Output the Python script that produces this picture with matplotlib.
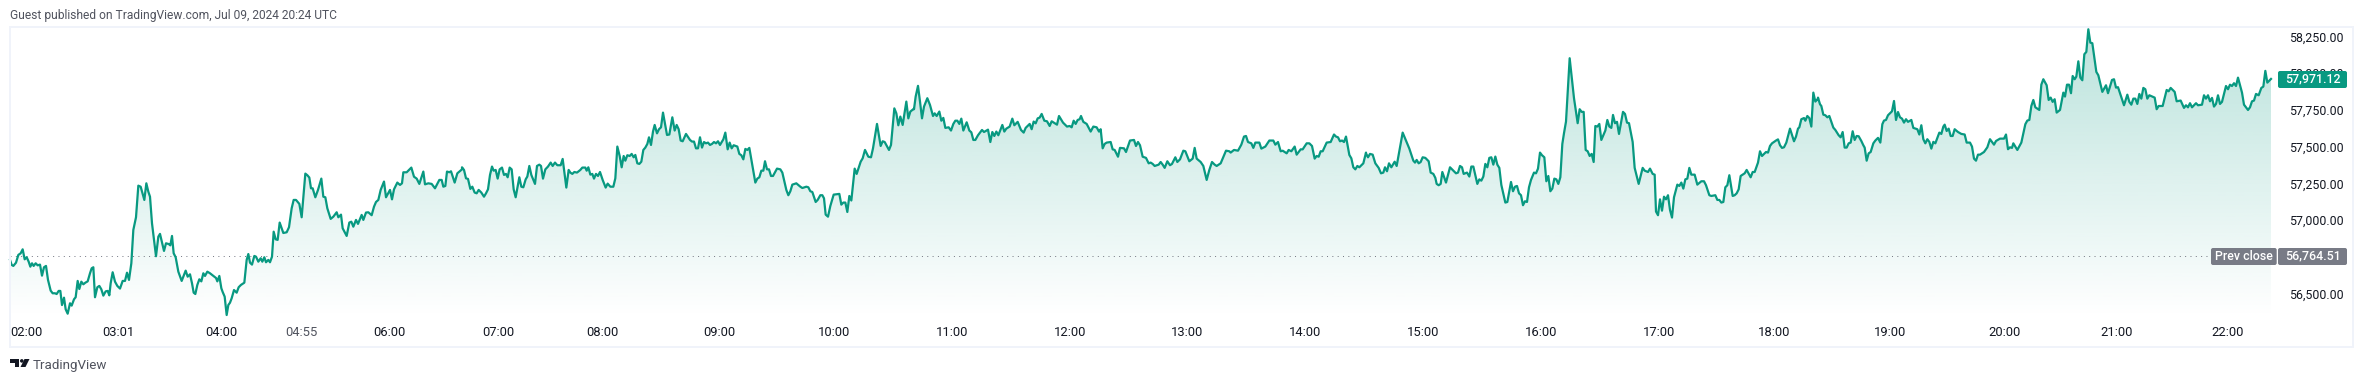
import numpy as np
import matplotlib
matplotlib.use("Agg")
import matplotlib.pyplot as plt
from matplotlib.patches import FancyBboxPatch, Rectangle, Polygon, Circle
from matplotlib.transforms import ScaledTranslation

# sub-bar position inside each window of the session (one window = 1356 units), and price
WINDOW = 1356
t_a = [0,5,10,18,25,32,38,44,50,56,61,66,71,77,83,90,96,102,108,114,122,128,135,140,146,151,156,162,167,173,180,185,192,197,203,208,214,220,226,233,240,245,250,255,262,268,274,280,287,293,298,302,308,315,322,330,338,345,351,357,364,370,378,385,392,403,409,415,420,426,432,438,445,450,462,468,476,481,486,491,497,505,515,520,527,533,540,546,551,556,562,568,574,580,585,592,600,608,618,622,628,634,638,644,650,655,660,665,672,680,686,693,703,710,715,720,726,733,738,745,752,757,763,768,775,780,786,791,797,803,809,820,830,837,845,851,858,868,875,886,892,898,903,908,916,924,934,940,946,952,962,970,980,985,993,998,1010,1018,1024,1030,1038,1044,1055,1060,1068,1075,1085,1092,1098,1105,1112,1122,1128,1140,1146,1152,1162,1170,1176,1180,1190,1204,1212,1220,1228,1240,1245,1255,1265,1275,1288,1295,1300,1306,1311,1318,1323,1334,1342,1356]
p_a = [56740,56706,56699,56721,56774,56785,56812,56744,56758,56728,56694,56717,56699,56717,56703,56708,56633,56690,56699,56604,56531,56513,56513,56508,56529,56529,56433,56483,56404,56374,56445,56429,56472,56486,56597,56542,56592,56574,56585,56594,56649,56683,56690,56486,56554,56563,56540,56497,56526,56529,56499,56581,56656,56592,56563,56545,56597,56597,56653,56604,56717,56944,57030,57245,57238,57148,57261,57204,57170,56989,56876,56765,56898,56917,56801,56853,56848,56839,56903,56785,56758,56660,56597,56626,56667,56626,56642,56581,56517,56508,56570,56608,56594,56649,56631,56660,56649,56635,56617,56594,56631,56547,56522,56490,56365,56433,56449,56479,56535,56517,56554,56570,56585,56740,56780,56721,56708,56767,56762,56728,56751,56728,56758,56724,56740,56724,56762,56932,56880,56876,56994,56923,56928,56962,57091,57148,57148,57121,57030,57327,57316,57300,57227,57227,57166,57216,57293,57170,57166,57091,57019,57034,57064,57030,57048,56955,56903,56994,57000,56966,57012,56985,57046,57012,57062,57064,57044,57102,57134,57148,57216,57273,57166,57216,57152,57220,57266,57250,57261,57336,57336,57368,57306,57293,57257,57341,57254,57261,57257,57227,57284,57284,57238,57243,57341,57336,57343,57266,57329,57356]

t_b = [0,6,12,18,25,31,38,44,50,58,66,72,78,84,90,95,101,107,113,120,126,132,137,143,149,155,161,172,178,184,191,196,202,208,219,225,232,237,243,250,258,266,272,279,286,296,302,313,320,325,331,337,345,355,361,370,374,379,385,391,396,402,408,414,422,431,437,445,454,460,466,473,479,485,490,496,503,509,515,520,526,532,538,544,550,556,561,567,573,578,585,591,597,603,615,622,631,638,644,650,656,662,672,684,690,696,702,708,714,720,726,732,738,744,750,756,762,768,774,784,790,797,803,809,815,826,832,838,844,850,856,862,880,886,892,898,904,909,915,921,927,933,945,955,961,973,979,985,991,1003,1015,1021,1033,1039,1045,1051,1061,1067,1075,1081,1086,1091,1098,1105,1115,1132,1138,1144,1150,1156,1162,1168,1178,1184,1196,1202,1209,1219,1227,1233,1245,1256,1262,1268,1281,1287,1297,1303,1309,1315,1322,1333,1339,1345,1356]
p_b = [57370,57352,57295,57291,57223,57238,57198,57193,57216,57198,57170,57193,57220,57318,57375,57347,57352,57293,57356,57368,57318,57325,57302,57368,57356,57220,57166,57302,57238,57234,57288,57307,57379,57318,57257,57379,57388,57379,57293,57356,57375,57402,57379,57402,57384,57384,57427,57232,57352,57334,57325,57338,57334,57352,57368,57368,57347,57370,57320,57325,57293,57325,57311,57338,57284,57232,57259,57238,57238,57295,57511,57447,57370,57447,57415,57452,57447,57461,57438,57454,57397,57393,57408,57488,57504,57529,57574,57522,57613,57658,57601,57629,57642,57742,57590,57593,57710,57620,57658,57629,57552,57547,57597,57556,57545,57545,57499,57499,57574,57504,57542,57533,57538,57522,57529,57542,57533,57547,57522,57560,57606,57492,57538,57499,57520,57511,57461,57452,57424,57495,57488,57502,57266,57293,57302,57347,57347,57411,57356,57356,57311,57311,57361,57356,57334,57216,57180,57207,57252,57261,57238,57229,57238,57234,57207,57202,57134,57148,57180,57180,57159,57048,57034,57107,57184,57189,57116,57130,57130,57066,57175,57144,57361,57325,57408,57431,57488,57442,57438,57499,57665,57515,57547,57542,57488,57522,57771,57737,57656,57715,57658,57817,57703,57749,57769]

t_c = [0,5,12,18,24,30,40,48,57,62,68,76,82,88,94,104,111,118,124,130,136,142,148,158,166,172,178,184,192,204,210,222,229,235,241,247,253,265,271,277,287,295,301,311,321,329,335,347,353,359,365,371,377,383,391,399,407,413,429,435,447,459,467,473,479,485,491,497,501,508,518,530,538,548,555,560,566,572,578,590,596,602,612,618,630,636,648,660,666,672,678,686,696,704,710,716,722,734,740,746,752,760,768,774,784,790,798,808,814,826,836,842,848,860,868,878,886,894,902,908,920,936,946,950,960,972,982,990,996,1002,1012,1018,1024,1036,1042,1054,1066,1078,1084,1092,1100,1106,1118,1124,1132,1142,1148,1160,1166,1178,1186,1194,1202,1208,1214,1220,1226,1238,1250,1260,1266,1272,1278,1284,1290,1296,1306,1312,1318,1324,1330,1336,1348,1356]
p_c = [57765,57851,57924,57817,57703,57783,57840,57794,57719,57737,57719,57749,57687,57706,57638,57642,57620,57665,57687,57687,57665,57701,57620,57676,57620,57608,57556,57556,57588,57624,57610,57626,57542,57610,57583,57613,57588,57658,57613,57633,57647,57701,57656,57679,57624,57606,57638,57665,57629,57681,57669,57703,57708,57733,57687,57683,57651,57683,57660,57719,57674,57647,57651,57642,57687,57665,57692,57697,57719,57679,57665,57613,57647,57642,57613,57629,57499,57529,57538,57542,57492,57488,57442,57502,57499,57474,57552,57556,57515,57542,57520,57442,57434,57397,57402,57393,57379,57388,57406,57388,57366,57411,57384,57393,57438,57406,57424,57483,57479,57411,57429,57502,57429,57406,57379,57284,57352,57406,57388,57379,57397,57483,57479,57470,57488,57483,57524,57579,57583,57542,57533,57502,57538,57538,57497,57511,57552,57552,57524,57542,57479,57483,57465,57488,57479,57511,57456,57492,57492,57533,57533,57515,57429,57447,57442,57479,57479,57538,57542,57593,57579,57574,57547,57552,57542,57579,57454,57431,57370,57356,57379,57370,57397,57470]

t_d = [0,6,12,20,28,38,45,52,57,63,69,76,86,92,110,120,130,142,147,152,158,164,170,178,188,194,202,208,212,218,224,229,240,252,262,270,276,282,288,293,303,310,316,322,334,340,346,352,358,364,370,376,382,388,394,400,406,418,424,435,441,447,453,459,465,471,477,483,489,495,504,510,516,522,528,535,541,547,553,559,565,571,577,583,589,594,600,611,624,635,641,647,653,659,665,671,677,683,688,694,700,706,718,724,730,736,741,747,753,759,771,777,783,789,800,806,818,830,836,846,852,860,866,870,876,882,888,894,900,906,912,918,924,934,940,946,952,958,964,970,976,986,994,1006,1014,1020,1030,1036,1048,1054,1060,1066,1072,1078,1084,1090,1100,1106,1112,1118,1124,1136,1142,1154,1160,1166,1176,1182,1188,1200,1206,1212,1218,1230,1236,1242,1248,1254,1261,1272,1284,1290,1296,1300,1306,1314,1318,1324,1330,1336,1342,1348,1356]
p_d = [57465,57438,57461,57456,57397,57366,57329,57334,57370,57343,57397,57370,57408,57379,57606,57552,57497,57415,57402,57420,57397,57406,57438,57434,57411,57334,57325,57298,57257,57248,57257,57338,57266,57370,57347,57329,57334,57379,57370,57325,57334,57307,57375,57375,57257,57288,57279,57307,57393,57370,57434,57438,57388,57443,57388,57366,57250,57130,57134,57270,57207,57238,57243,57193,57180,57112,57139,57134,57234,57284,57334,57329,57361,57470,57452,57438,57275,57311,57207,57225,57293,57288,57257,57302,57529,57602,57681,58112,57840,57670,57765,57747,57747,57488,57479,57447,57461,57406,57651,57647,57665,57556,57620,57692,57647,57638,57726,57670,57679,57597,57747,57733,57674,57670,57542,57366,57257,57366,57347,57338,57361,57325,57320,57069,57044,57152,57075,57170,57152,57180,57080,57028,57166,57252,57243,57266,57225,57288,57293,57366,57320,57320,57252,57275,57275,57248,57180,57175,57180,57148,57148,57130,57134,57234,57248,57316,57175,57180,57193,57220,57311,57329,57352,57302,57338,57338,57402,57479,57447,57474,57470,57515,57533,57552,57560,57520,57502,57506,57538,57633,57547,57579,57633,57642,57697,57705,57687,57719,57705,57647,57878,57817,57837]

t_e = [0,6,10,16,22,28,34,46,52,62,68,74,80,86,92,98,104,110,116,122,130,136,140,146,152,158,166,172,180,187,193,198,204,210,222,228,234,240,246,252,258,264,270,280,286,298,304,310,316,322,328,334,340,346,352,364,370,376,380,386,392,398,404,410,420,430,440,446,456,462,468,474,480,486,498,508,516,528,534,546,558,564,570,576,582,586,598,610,622,628,634,640,646,652,664,670,676,686,692,698,704,710,716,726,736,741,747,753,759,764,770,775,781,787,793,799,805,811,817,823,835,841,853,864,870,882,888,894,900,918,928,934,940,946,952,958,964,970,976,982,988,994,1010,1016,1022,1034,1046,1052,1058,1070,1076,1088,1098,1104,1110,1116,1122,1134,1140,1152,1158,1164,1170,1176,1182,1188,1194,1200,1206,1212,1224,1230,1236,1242,1248,1254,1260,1272,1278,1290,1296,1302,1308,1314,1322,1330,1336,1342,1348,1359]
p_e = [57844,57799,57787,57728,57724,57710,57719,57640,57624,57588,57574,57610,57504,57504,57533,57538,57615,57556,57583,57581,57549,57520,57504,57415,57465,57474,57533,57552,57570,57538,57663,57688,57692,57724,57751,57821,57692,57746,57710,57701,57674,57697,57679,57692,57638,57629,57593,57656,57561,57533,57561,57543,57497,57543,57533,57606,57597,57647,57660,57617,57633,57583,57583,57629,57610,57597,57593,57538,57538,57511,57429,57415,57456,57456,57474,57506,57561,57524,57549,57565,57565,57593,57493,57506,57502,57533,57488,57538,57663,57688,57692,57787,57828,57778,57760,57932,57969,57928,57828,57844,57815,57833,57742,57760,57878,57851,57932,57932,57874,57991,57969,57987,58091,57980,57962,58139,58155,58309,58218,58214,58019,57996,57883,57928,57874,57964,57969,57912,57915,57792,57864,57815,57796,57837,57837,57801,57869,57837,57910,57901,57837,57860,57844,57765,57787,57787,57896,57887,57910,57883,57819,57824,57774,57792,57778,57806,57778,57806,57792,57796,57860,57837,57860,57819,57842,57783,57801,57860,57801,57815,57923,57901,57932,57923,57942,57923,57980,57878,57796,57760,57778,57819,57824,57869,57860,57910,57919,58026,57946,57971.12]

price_ticks = [56500, 57000, 57250, 57500, 57750, 58000, 58250]
time_labels = ["02:00","03:01","04:00","04:55","06:00","07:00","08:00","09:00","10:00","11:00","12:00","13:00","14:00","15:00","16:00","17:00","18:00","19:00","20:00","21:00","22:00"]
time_positions = [50,326,634,875,1139,1464,1776,2129,2471,2825,3179,3532,3886,4239,4593,4947,5292,5640,5983,6319,6653]
last_price = 57971.12
prev_close = 56764.51
title = "Guest published on TradingView.com, Jul 09, 2024 20:24 UTC"

FONT = "Roboto"
GREEN = "#089981"
GRAY = "#787B86"
W, H = 2362, 382
plt.rcParams["font.family"] = FONT

t = np.concatenate([np.array(s) + i * WINDOW for i, s in enumerate([t_a, t_b, t_c, t_d, t_e])]).astype(float)
p = np.concatenate([p_a, p_b, p_c, p_d, p_e]).astype(float)

fig = plt.figure(figsize=(W / 100, H / 100), dpi=100, facecolor="white")
L, R, T, B = 10, 2278, 27, 318
ax = fig.add_axes([L / W, 1 - B / H, (R - L) / W, (B - T) / H])
PX = 0.147
ax.set_xlim(0, (R - L) * 3)
ymax = prev_close + (256.3 - T) / PX
ymin = prev_close - (B - 256.3) / PX
ax.set_ylim(ymin, ymax)
for s in ax.spines.values():
    s.set_visible(False)

# gradient area under the line
poly = ax.fill_between(t, p, ymin, facecolor="none", edgecolor="none")
rgb = matplotlib.colors.to_rgb(GREEN)
n = 256
grad = np.zeros((n, 1, 4))
grad[..., :3] = rgb
grad[..., 3] = np.linspace(0.28, 0.0, n)[:, None]
im = ax.imshow(grad, extent=[t.min(), t.max(), ymin, p.max()], origin="upper", aspect="auto", zorder=1, interpolation="bilinear")
im.set_clip_path(poly.get_paths()[0], ax.transData)
ax.set_xlim(0, (R - L) * 3)
ax.set_ylim(ymin, ymax)

ax.plot([0, (2211 - L) * 3], [prev_close, prev_close], color=GRAY, lw=0.72, linestyle=(0, (1, 4.33)), zorder=2)
ax.plot(t, p, color=GREEN, lw=1.6, solid_joinstyle="round", zorder=3, clip_on=False)

ax.yaxis.tick_right()
ax.set_yticks(price_ticks)
ax.set_yticklabels([f"{v:,.2f}" for v in price_ticks], fontsize=8.9, color="#131722")
ax.tick_params(axis="y", length=0, pad=7.6)
up = ScaledTranslation(0, 1.5 / 72 * 0.72, fig.dpi_scale_trans)
for lab in ax.get_yticklabels():
    lab.set_transform(lab.get_transform() + up)
ax.set_xticks(time_positions)
ax.set_xticklabels(time_labels, fontsize=9.4, color="#131722")
ax.tick_params(axis="x", length=0, pad=5.5)
for lab in ax.get_xticklabels():
    if lab.get_text() == "04:55":
        lab.set_color("#50535E")

# overlay in pixels: frame, price badges, header, logo
ov = fig.add_axes([0, 0, 1, 1], zorder=5)
ov.set_xlim(0, W)
ov.set_ylim(H, 0)
ov.axis("off")
ov.patch.set_alpha(0)
frame = "#F0F3FA"
for x, y, w, h in [(9, 26, 2345, 2), (9, 346, 2345, 2), (9, 26, 2, 322), (2352, 26, 2, 322)]:
    ov.add_patch(Rectangle((x, y), w, h, facecolor=frame, edgecolor="none"))

def badge(x0, x1, y0, y1, color):
    ov.add_patch(FancyBboxPatch((x0 + 2, y0 + 2), x1 - x0 - 4, y1 - y0 - 4,
                                boxstyle="round,pad=2,rounding_size=2", facecolor=color, edgecolor="none"))

badge(2278, 2347, 71, 88, GREEN)
badge(2278, 2347, 248, 265, GRAY)
badge(2211, 2276.7, 248, 265, GRAY)
ov.text(2341, 79.2, f"{last_price:,.2f}", color="white", fontsize=8.9, ha="right", va="center", fontweight="medium")
ov.text(2341, 255.8, f"{prev_close:,.2f}", color="white", fontsize=8.9, ha="right", va="center", fontweight="medium")
ov.text(2244, 257, "Prev close", color="white", fontsize=8.9, ha="center", va="center", fontweight="medium")

ov.text(10, 15.5, title, color="#50535E", fontsize=8.62, ha="left", va="center")
ov.text(33, 365, "TradingView", color="#50535E", fontsize=9.6, ha="left", va="center")
ov.add_patch(Polygon([(10, 359), (19, 359), (19, 367), (14.5, 367), (14.5, 362.5), (10, 362.5)], facecolor="#131722", edgecolor="none"))
ov.add_patch(Circle((21.8, 360.9), 1.8, facecolor="#131722", edgecolor="none"))
ov.add_patch(Polygon([(24.5, 359), (29.5, 359), (25.5, 367), (20.5, 367)], facecolor="#131722", edgecolor="none"))

fig.savefig("out.png", dpi=100)
